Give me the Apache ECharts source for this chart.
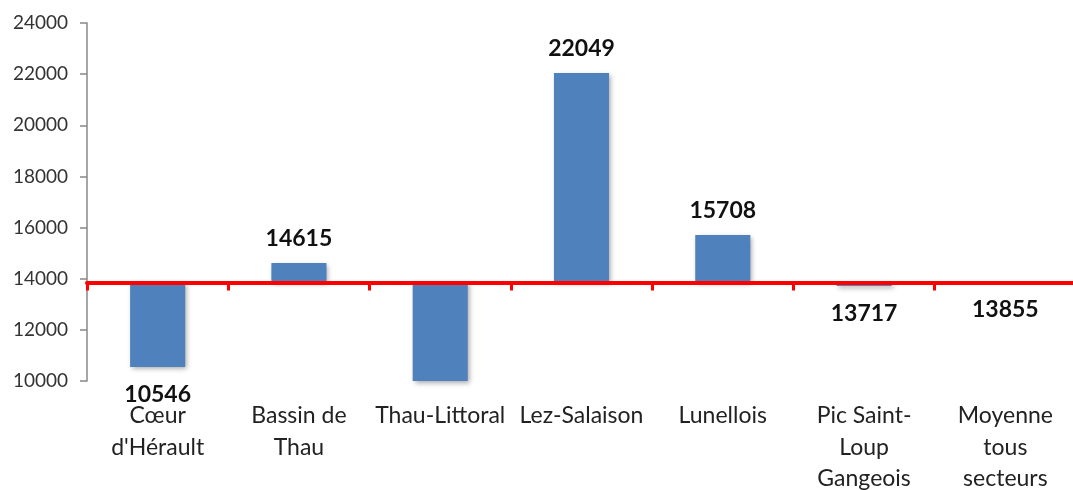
<!DOCTYPE html>
<html>
<head>
<meta charset="utf-8">
<script src="https://cdn.jsdelivr.net/npm/echarts@6/dist/echarts.min.js"></script>
<style>
html,body{margin:0;padding:0;background:#fff;}
#c{width:1073px;height:490px;}
</style>
</head>
<body>
<div id="c"></div>
<script>
const categories = ["Cœur\nd'Hérault", "Bassin de\nThau", "Thau-Littoral", "Lez-Salaison", "Lunellois", "Pic Saint-\nLoup\nGangeois", "Moyenne\ntous\nsecteurs"];
const values = [10546, 14615, 9800, 22049, 15708, 13717, 13855];
const showValueLabel = [true, true, false, true, true, true, true];
const baseline = 13855;
const yMin = 10000, yMax = 24000, yInterval = 2000;

const FONT = 'Lato';
const chart = echarts.init(document.getElementById('c'));

const baseData = values.map(v => Math.min(v, baseline));
const diffData = values.map((v, i) => ({
  value: Math.abs(v - baseline),
  label: {
    show: showValueLabel[i],
    position: v > baseline ? 'top' : 'bottom',
    distance: v > baseline ? 13 : 16,
    formatter: () => String(v)
  }
}));

const option = {
  animation: false,
  backgroundColor: '#ffffff',
  grid: { left: 87, top: 23, width: 989, bottom: 109, containLabel: false, outerBoundsMode: 'none' },
  xAxis: [
    {
      type: 'category',
      data: categories,
      position: 'bottom',
      axisLine: { show: false, onZero: false },
      axisTick: { show: false },
      axisLabel: {
        interval: 0,
        margin: 19,
        color: '#222',
        fontFamily: FONT,
        fontSize: 23,
        lineHeight: 31.5
      }
    },
    {
      type: 'category',
      data: categories,
      position: 'bottom',
      offset: 0,
      z: 10,
      axisLine: { show: true, onZero: false, lineStyle: { color: '#ff0000', width: 4 } },
      axisTick: { show: true, inside: false, length: 8, lineStyle: { color: '#ff0000', width: 3 } },
      axisLabel: { show: false }
    }
  ],
  yAxis: {
    type: 'value',
    min: yMin,
    max: yMax,
    interval: yInterval,
    axisLine: { show: true, lineStyle: { color: '#888888', width: 1.5 } },
    axisTick: { show: true, length: 7, lineStyle: { color: '#888888', width: 1.5 } },
    splitLine: { show: false },
    axisLabel: { color: '#333', fontFamily: FONT, fontSize: 19, margin: 19, formatter: v => String(v) }
  },
  series: [
    {
      type: 'bar',
      stack: 'v',
      data: baseData,
      barWidth: '39%',
      silent: true,
      clip: true,
      itemStyle: { color: 'rgba(0,0,0,0)' },
      label: { show: false }
    },
    {
      type: 'bar',
      stack: 'v',
      data: diffData,
      barWidth: '39%',
      clip: true,
      itemStyle: {
        color: '#4F81BD',
        shadowBlur: 5,
        shadowColor: 'rgba(0,0,0,0.35)',
        shadowOffsetX: 2,
        shadowOffsetY: 2
      },
      label: {
        color: '#111',
        fontFamily: FONT,
        fontWeight: 'bold',
        fontSize: 23
      }
    }
  ]
};

chart.setOption(option);
const yBase = chart.convertToPixel({ yAxisIndex: 0 }, baseline);
const yBottom = chart.convertToPixel({ yAxisIndex: 0 }, yMin);
chart.setOption({ xAxis: [{}, { offset: yBase - yBottom }] });
</script>
</body>
</html>
